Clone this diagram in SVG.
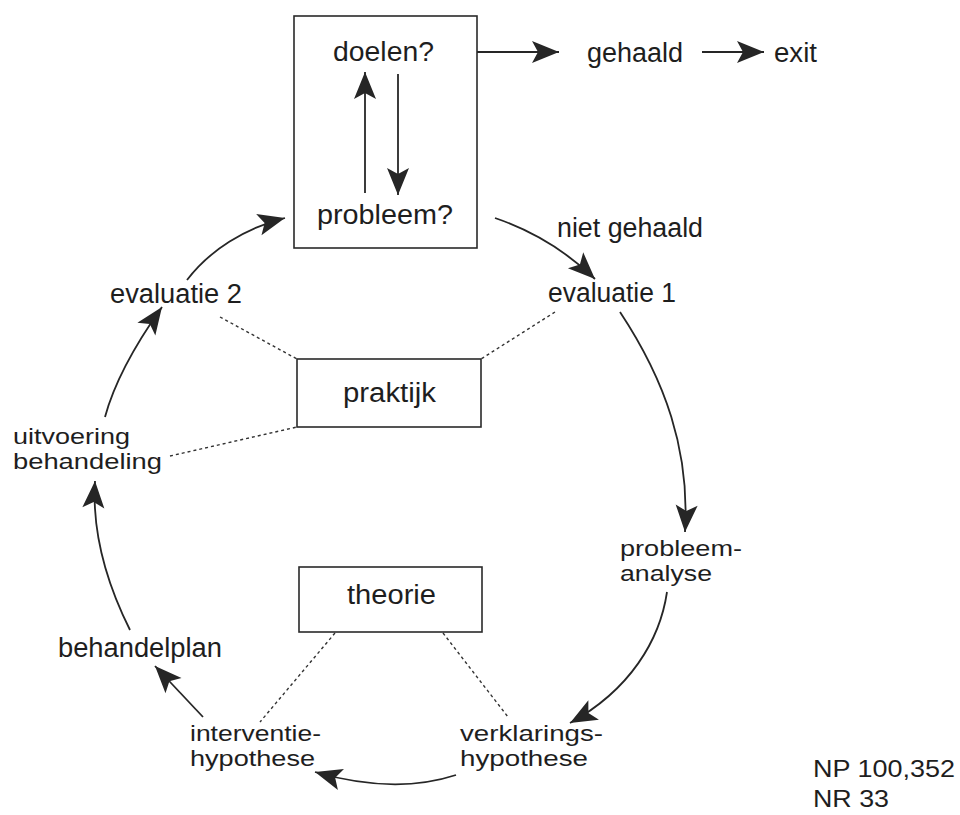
<svg xmlns="http://www.w3.org/2000/svg" width="960" height="815" viewBox="0 0 960 815">
<style>
text{font-family:"Liberation Sans",Arial,Helvetica,sans-serif;fill:#1e1e1e}
.l{font-size:27px}
.m{font-size:22px}
.r{font-size:24px}
.box{fill:none;stroke:#2a2a2a;stroke-width:1.6}
.arr{fill:none;stroke:#262626;stroke-width:1.8;marker-end:url(#ah)}
.dot{fill:none;stroke:#333;stroke-width:1.4;stroke-dasharray:3 3}
</style>
<defs>
<marker id="ah" markerUnits="userSpaceOnUse" viewBox="-30 -13 32 26" refX="0" refY="0" markerWidth="32" markerHeight="26" orient="auto">
<path d="M0,0 L-27,-11 L-21,0 L-27,11 Z" fill="#262626"/>
</marker>
</defs>
<rect width="960" height="815" fill="#ffffff"/>
<g id="connectors">
<path class="arr" d="M365,193 L365,72"/>
<path class="arr" d="M398,74 L398,195"/>
<path class="arr" d="M477,52 L559,52"/>
<path class="arr" d="M702,52 L764,52"/>
<path class="arr" d="M495,218 C530,230 565,250 595,279"/>
<path class="arr" d="M620,312 C665,380 690,450 685,532"/>
<path class="arr" d="M667,592 C660,640 630,690 570,723"/>
<path class="arr" d="M456,775 Q395,795 315,772"/>
<path class="arr" d="M203,717 L155,666"/>
<path class="arr" d="M130,630 C105,580 92,530 95,481"/>
<path class="arr" d="M105,417 C115,380 135,345 162,307"/>
<path class="arr" d="M187,280 C210,250 245,228 285,218"/>
<path class="dot" d="M220,317 L297,359"/>
<path class="dot" d="M555,312 L481,359"/>
<path class="dot" d="M170,456 L297,427"/>
<path class="dot" d="M335,633 L260,722"/>
<path class="dot" d="M443,633 L508,717"/>
</g>
<g id="doelen-probleem">
<rect class="box" x="294" y="16" width="183" height="232"/>
<text class="l" x="333" y="61" textLength="101" lengthAdjust="spacingAndGlyphs">doelen?</text>
<text class="l" x="317" y="224" textLength="136" lengthAdjust="spacingAndGlyphs">probleem?</text>
</g>
<g id="gehaald"><text class="l" x="587" y="62" textLength="96" lengthAdjust="spacingAndGlyphs">gehaald</text></g>
<g id="exit"><text class="l" x="774" y="62" textLength="43" lengthAdjust="spacingAndGlyphs">exit</text></g>
<g id="niet-gehaald"><text class="l" x="557" y="237" textLength="146" lengthAdjust="spacingAndGlyphs">niet gehaald</text></g>
<g id="evaluatie1"><text class="l" x="548" y="302" textLength="128" lengthAdjust="spacingAndGlyphs">evaluatie 1</text></g>
<g id="evaluatie2"><text class="l" x="110" y="303" textLength="132" lengthAdjust="spacingAndGlyphs">evaluatie 2</text></g>
<g id="praktijk">
<rect class="box" x="297" y="359" width="184" height="68"/>
<text class="l" x="343" y="402" textLength="93" lengthAdjust="spacingAndGlyphs">praktijk</text>
</g>
<g id="uitvoering">
<text class="m" x="13" y="444" textLength="117" lengthAdjust="spacingAndGlyphs">uitvoering</text>
<text class="m" x="13" y="469" textLength="149" lengthAdjust="spacingAndGlyphs">behandeling</text>
</g>
<g id="probleemanalyse">
<text class="m" x="620" y="556" textLength="122" lengthAdjust="spacingAndGlyphs">probleem-</text>
<text class="m" x="620" y="581" textLength="92" lengthAdjust="spacingAndGlyphs">analyse</text>
</g>
<g id="theorie">
<rect class="box" x="299" y="567" width="183" height="65"/>
<text class="l" x="347" y="604" textLength="89" lengthAdjust="spacingAndGlyphs">theorie</text>
</g>
<g id="behandelplan"><text class="l" x="58" y="657" textLength="164" lengthAdjust="spacingAndGlyphs">behandelplan</text></g>
<g id="interventiehypothese">
<text class="m" x="190" y="741" textLength="131" lengthAdjust="spacingAndGlyphs">interventie-</text>
<text class="m" x="190" y="766" textLength="125" lengthAdjust="spacingAndGlyphs">hypothese</text>
</g>
<g id="verklaringshypothese">
<text class="m" x="460" y="741" textLength="143" lengthAdjust="spacingAndGlyphs">verklarings-</text>
<text class="m" x="460" y="766" textLength="128" lengthAdjust="spacingAndGlyphs">hypothese</text>
</g>
<g id="ref">
<text class="r" x="813" y="777" textLength="142" lengthAdjust="spacingAndGlyphs">NP 100,352</text>
<text class="r" x="813" y="807" textLength="76" lengthAdjust="spacingAndGlyphs">NR 33</text>
</g>
</svg>
